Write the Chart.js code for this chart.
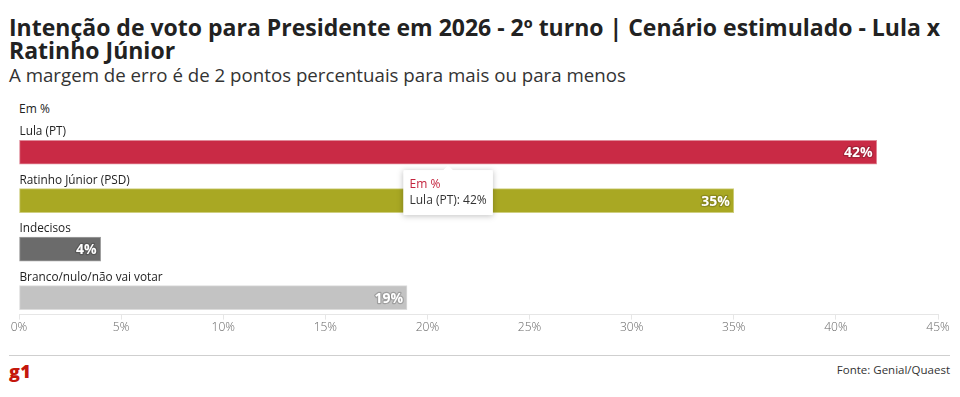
<!DOCTYPE html>
<html lang="pt-BR">
<head>
<meta charset="utf-8">
<title>Intenção de voto - 2º turno</title>
<script src="https://cdn.jsdelivr.net/npm/chart.js@4.4.1/dist/chart.umd.min.js"></script>
<style>
  html, body { margin: 0; padding: 0; background: #fff; }
  body { width: 960px; height: 397px; position: relative; overflow: hidden; font-family: "Open Sans", sans-serif; color: #222; }
  #titulo { position: absolute; left: 9px; top: 16px; width: 950px; font-size: 23px; font-weight: 700; line-height: 23px; color: #222; margin: 0; }
  #subtitulo { position: absolute; left: 9px; top: 64px; font-size: 18.7px; line-height: 22px; color: #333; margin: 0; }
  #unidade { position: absolute; left: 19px; top: 100px; font-size: 12px; color: #222; }
  #grafico { position: absolute; left: 0; top: 0; width: 960px; height: 340px; }
  #linha { position: absolute; left: 9px; top: 355px; width: 941px; height: 1px; background: #cfcfcf; }
  #logo { position: absolute; left: 9px; top: 361px; font-size: 18px; line-height: 20px; font-weight: 800; color: #c4170c; letter-spacing: 0.3px; }
  #fonte { position: absolute; right: 10px; top: 362px; font-size: 11.5px; color: #333; }
</style>
</head>
<body>
<h1 id="titulo">Intenção de voto para Presidente em 2026 - 2º turno | Cenário estimulado - Lula x<br>Ratinho Júnior</h1>
<p id="subtitulo">A margem de erro é de 2 pontos percentuais para mais ou para menos</p>
<div id="unidade">Em %</div>
<div id="grafico"><canvas id="c"></canvas></div>
<div id="linha"></div>
<div id="logo">g1</div>
<div id="fonte">Fonte: Genial/Quaest</div>
<script>
// dados
var categorias = ['Lula (PT)', 'Ratinho Júnior (PSD)', 'Indecisos', 'Branco/nulo/não vai votar'];
var valores = [42, 35, 4, 19];
var cores = ['#c92a45', '#a9a823', '#6b6b6b', '#c3c3c3'];
var bordas = ['#e08a99', '#cfcf80', '#a0a0a0', '#dcdcdc'];
var ticksX = [0, 5, 10, 15, 20, 25, 30, 35, 40, 45];

// posiciona a tooltip embaixo da barra
Chart.Tooltip.positioners.embaixo = function (items) {
  if (!items.length) return false;
  var el = items[0].element;
  return { x: (el.x + el.base) / 2, y: el.y + el.height / 2 };
};

// rótulos das categorias (acima) e valores (dentro da barra)
var rotulos = {
  id: 'rotulos',
  afterDatasetsDraw: function (chart) {
    var ctx = chart.ctx;
    var meta = chart.getDatasetMeta(0);
    ctx.save();
    meta.data.forEach(function (bar, i) {
      var topo = bar.y - bar.height / 2;
      ctx.font = '11.8px "Open Sans"';
      ctx.fillStyle = '#222';
      ctx.textAlign = 'left';
      ctx.textBaseline = 'alphabetic';
      ctx.fillText(categorias[i], bar.base, topo - 5);

      var txt = valores[i] + '%';
      ctx.font = 'bold 14px "Open Sans"';
      ctx.textAlign = 'right';
      ctx.textBaseline = 'middle';
      ctx.lineWidth = 2.5;
      ctx.lineJoin = 'round';
      ctx.strokeStyle = 'rgba(0,0,0,0.18)';
      ctx.strokeText(txt, bar.x - 4, bar.y + 1);
      ctx.fillStyle = '#fff';
      ctx.fillText(txt, bar.x - 4, bar.y + 1);
    });
    ctx.restore();
  },
  beforeTooltipDraw: function (chart, args) {
    var t = args.tooltip;
    if (!t.opacity) return;
    var ctx = chart.ctx;
    ctx.save();
    ctx.shadowColor = 'rgba(0,0,0,0.25)';
    ctx.shadowBlur = 6;
    ctx.shadowOffsetY = 1;
    ctx.fillStyle = '#fff';
    ctx.fillRect(t.x, t.y, t.width, t.height);
    ctx.restore();
  }
};

var chart = new Chart(document.getElementById('c'), {
  type: 'bar',
  data: {
    datasets: [{
      data: valores.map(function (v, i) { return { x: v, y: i }; }),
      backgroundColor: cores,
      borderColor: bordas,
      borderWidth: 1,
      borderSkipped: false,
      barThickness: 24
    }]
  },
  options: {
    indexAxis: 'y',
    responsive: true,
    maintainAspectRatio: false,
    animation: false,
    layout: { padding: { left: 19, right: 22, top: 128, bottom: 4 } },
    scales: {
      y: {
        type: 'linear',
        reverse: true,
        offset: false,
        min: -0.5,
        max: 3.35,
        display: false
      },
      x: {
        min: 0,
        max: 45,
        afterBuildTicks: function (axis) {
          axis.ticks = ticksX.map(function (v) { return { value: v }; });
        },
        grid: { drawOnChartArea: false, color: '#e6e6e6', tickLength: 5 },
        border: { color: '#e6e6e6' },
        ticks: {
          color: '#666',
          padding: 1,
          font: { family: 'Open Sans', size: 12, weight: 300 },
          callback: function (v) { return v + '%'; }
        }
      }
    },
    plugins: {
      legend: { display: false },
      tooltip: {
        enabled: true,
        animation: false,
        position: 'embaixo',
        yAlign: 'top',
        xAlign: 'center',
        backgroundColor: '#fff',
        borderWidth: 0,
        cornerRadius: 2,
        caretSize: 5,
        caretPadding: 1,
        padding: { left: 6, right: 6, top: 7, bottom: 7 },
        displayColors: false,
        titleColor: '#c4253f',
        titleFont: { family: 'Open Sans', size: 12, weight: 'normal' },
        titleMarginBottom: 2,
        bodyColor: '#333',
        bodyFont: { family: 'Open Sans', size: 12 },
        callbacks: {
          title: function () { return 'Em %'; },
          label: function (c) { return categorias[c.dataIndex] + ': ' + valores[c.dataIndex] + '%'; }
        }
      }
    }
  },
  plugins: [rotulos]
});

chart.tooltip.setActiveElements([{ datasetIndex: 0, index: 0 }], { x: 447, y: 165 });
chart.update();
</script>
</body>
</html>
